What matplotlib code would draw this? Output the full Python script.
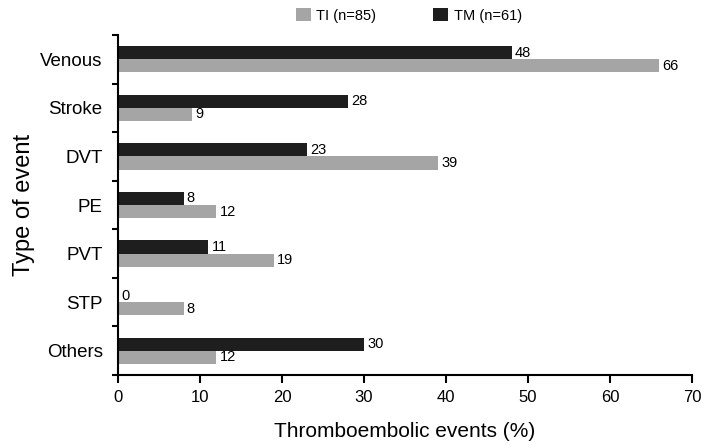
import matplotlib.pyplot as plt
import numpy as np

plt.rcParams['font.family'] = ['Liberation Sans', 'DejaVu Sans']

categories = ["Venous", "Stroke", "DVT", "PE", "PVT", "STP", "Others"]
tm_values = [48, 28, 23, 8, 11, 0, 30]
ti_values = [66, 9, 39, 12, 19, 8, 12]
tm_label = "TM (n=61)"
ti_label = "TI (n=85)"

col_tm = '#1e1e1e'
col_ti = '#a5a5a5'

fig = plt.figure(figsize=(7.06, 4.47), dpi=100)
fig.patch.set_facecolor('white')
ax = fig.add_axes([0.1671, 0.161, 0.813, 0.7606])

y = np.arange(len(categories))[::-1]
h = 0.27

b_tm = ax.barh(y + h / 2, tm_values, height=h, color=col_tm, label=tm_label)
b_ti = ax.barh(y - h / 2, ti_values, height=h, color=col_ti, label=ti_label)

for yy, v in zip(y, tm_values):
    ax.text(v + 0.4, yy + h / 2, str(v), va='center', ha='left', fontsize=10.5)
for yy, v in zip(y, ti_values):
    ax.text(v + 0.4, yy - h / 2, str(v), va='center', ha='left', fontsize=10.5)

ax.set_xlim(0, 70)
ax.set_ylim(-0.5, len(categories) - 0.5)
ax.set_xticks(np.arange(0, 71, 10))
ax.tick_params(axis='x', labelsize=12, width=1.5, length=6, pad=5, direction='out')

# y ticks sit between categories, labels centred on categories
ax.set_yticks(np.arange(-0.5, len(categories), 1.0))
ax.set_yticklabels([])
ax.set_yticks(y, minor=True)
ax.set_yticklabels(categories, minor=True, fontsize=13.5)
ax.tick_params(axis='y', which='major', width=1.5, length=4)
ax.tick_params(axis='y', which='minor', length=0, pad=11)

for s in ['top', 'right']:
    ax.spines[s].set_visible(False)
for s in ['left', 'bottom']:
    ax.spines[s].set_linewidth(1.5)

ax.set_xlabel('Thromboembolic events (%)', fontsize=15, labelpad=12)
ax.set_ylabel('Type of event', fontsize=17, labelpad=4)

fig.legend(handles=[b_ti, b_tm], loc='center', bbox_to_anchor=(0.579, 0.966),
           ncol=2, frameon=False, fontsize=10.5, handlelength=1.05, handleheight=1.05,
           columnspacing=3.9, handletextpad=0.35)

plt.savefig('out.png', dpi=100)
plt.close(fig)
